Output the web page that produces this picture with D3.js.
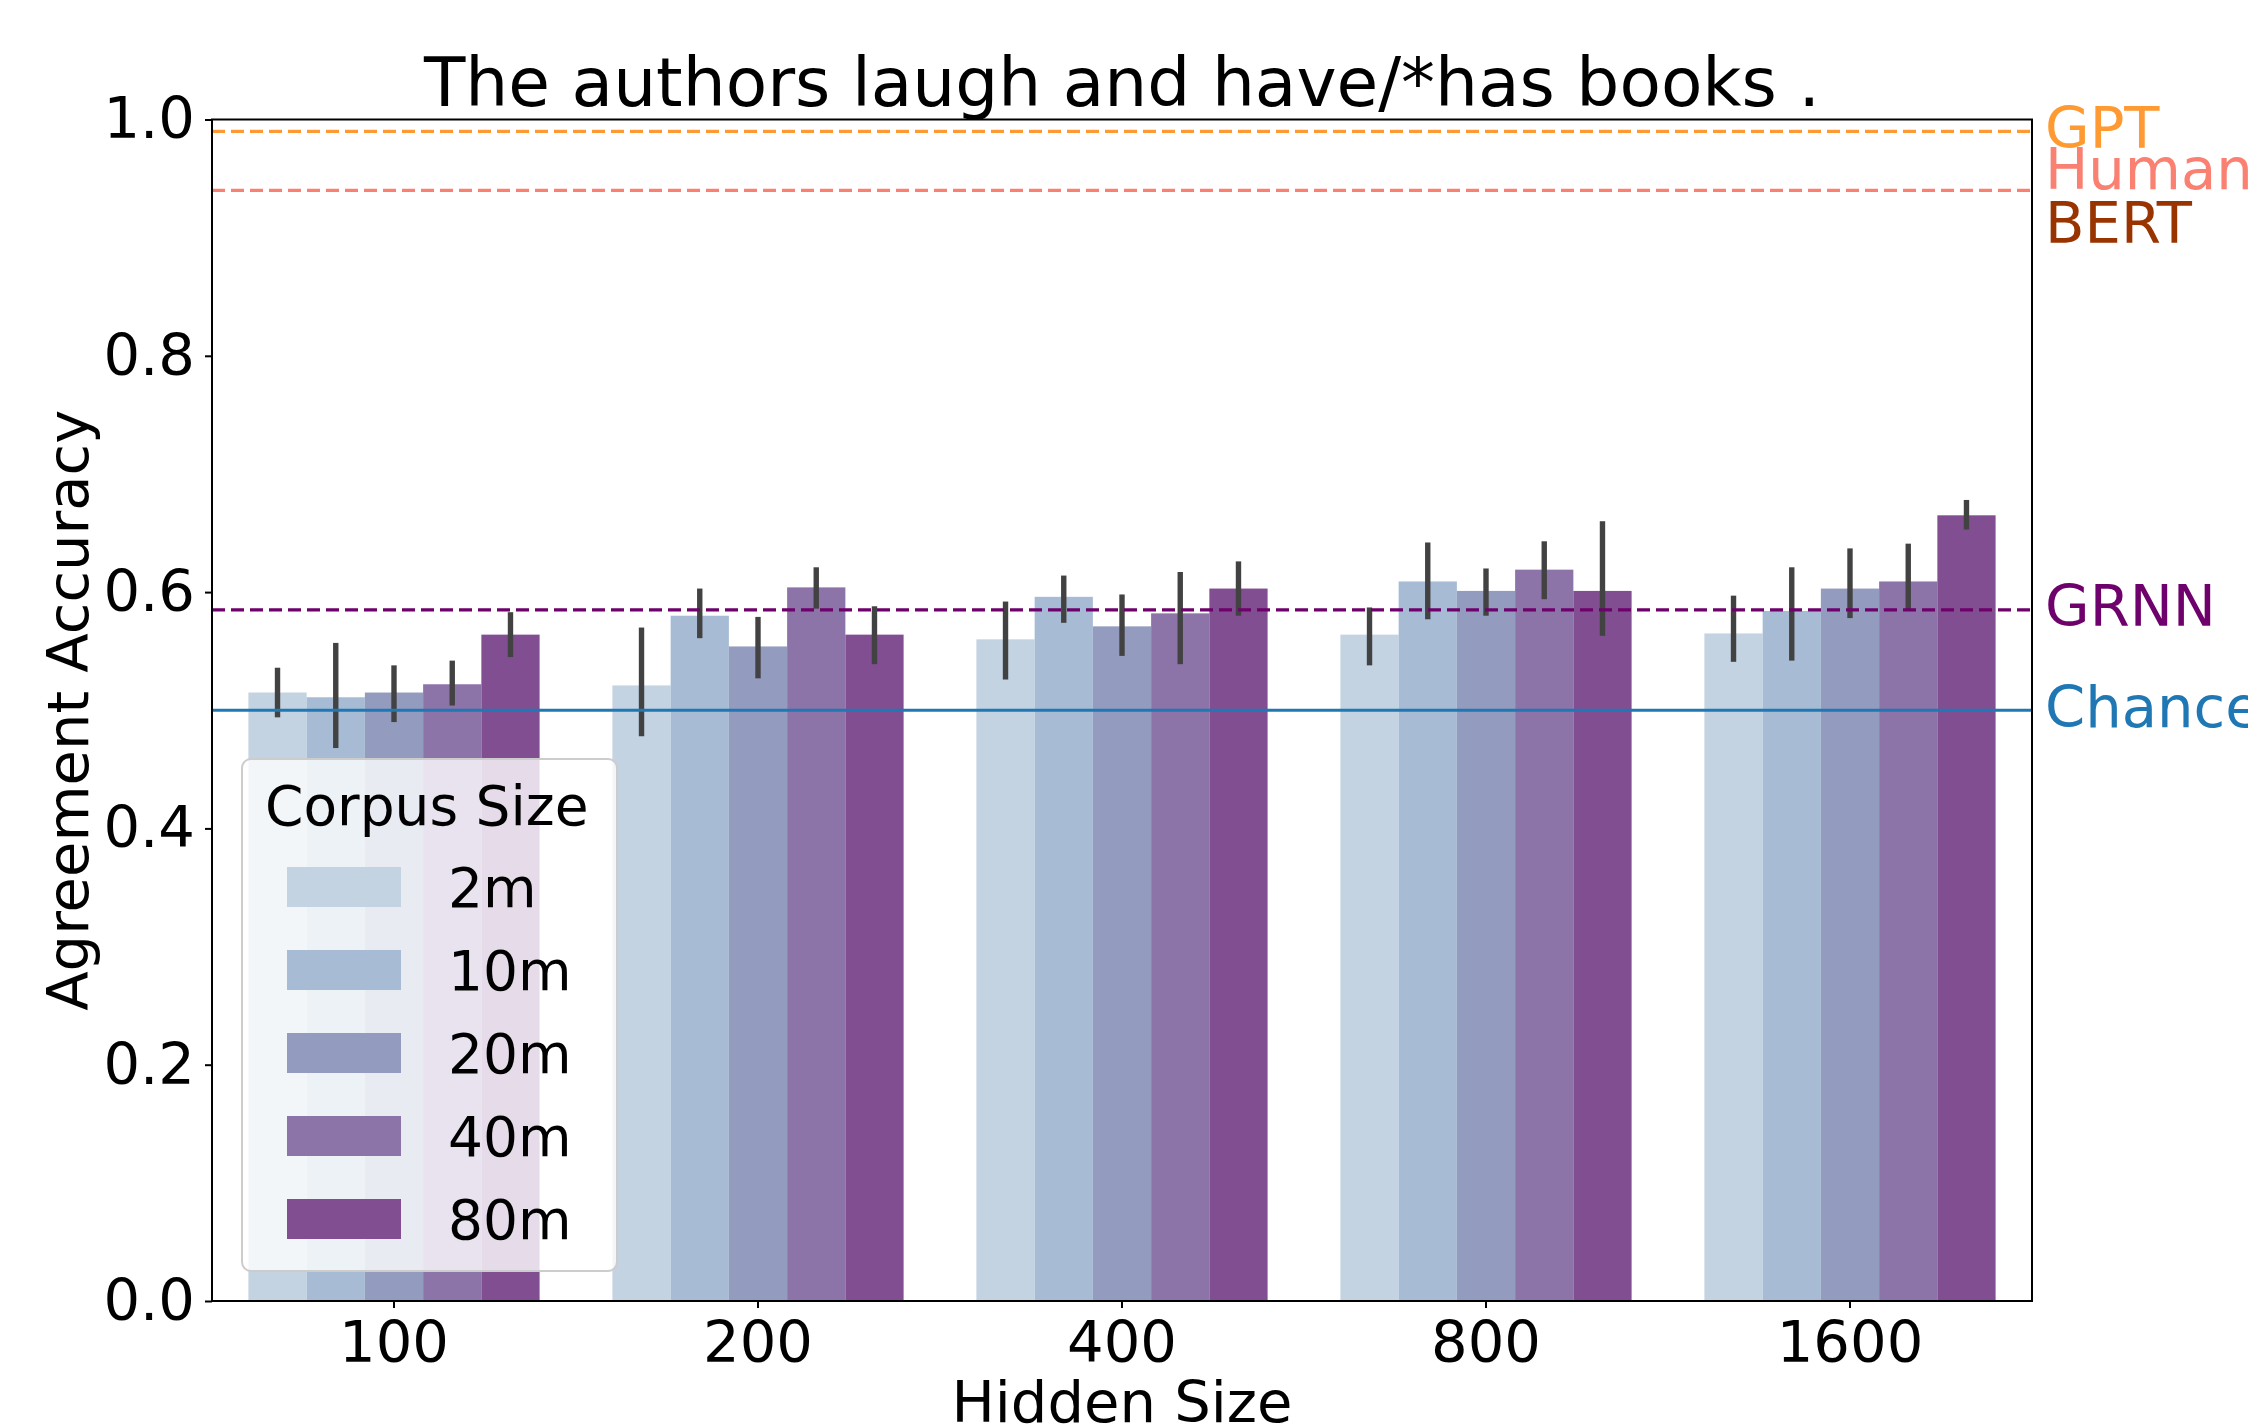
<!DOCTYPE html>
<html lang="en">
<head>
    <meta charset="UTF-8">
    <title>Agreement Accuracy</title>
    <script src="https://d3js.org/d3.v7.min.js"></script>
    <style>
        * {
            margin: 0;
            padding: 0;
            box-sizing: border-box;
        }
        body {
            font-family: "DejaVu Sans", sans-serif;
            background: white;
        }
    </style>
</head>
<body>
    <div id="chart"></div>
    <script>
        // data
        const hiddenSizes = ["100", "200", "400", "800", "1600"];
        const corpusSizes = ["2m", "10m", "20m", "40m", "80m"];

        // mean accuracy per corpus size, one value per hidden size
        const acc2m  = [0.515, 0.521, 0.560, 0.564, 0.565];
        const acc10m = [0.511, 0.580, 0.596, 0.609, 0.584];
        const acc20m = [0.515, 0.554, 0.571, 0.601, 0.603];
        const acc40m = [0.522, 0.604, 0.582, 0.619, 0.609];
        const acc80m = [0.564, 0.564, 0.603, 0.601, 0.665];

        // error bar low / high
        const lo2m  = [0.494, 0.478, 0.526, 0.538, 0.541];
        const hi2m  = [0.536, 0.570, 0.592, 0.587, 0.597];
        const lo10m = [0.468, 0.561, 0.574, 0.577, 0.542];
        const hi10m = [0.557, 0.603, 0.614, 0.642, 0.621];
        const lo20m = [0.490, 0.527, 0.546, 0.580, 0.578];
        const hi20m = [0.538, 0.579, 0.598, 0.620, 0.637];
        const lo40m = [0.504, 0.586, 0.539, 0.594, 0.585];
        const hi40m = [0.542, 0.621, 0.617, 0.643, 0.641];
        const lo80m = [0.545, 0.539, 0.580, 0.563, 0.653];
        const hi80m = [0.583, 0.588, 0.626, 0.660, 0.678];

        const yTicks = [0, 0.2, 0.4, 0.6, 0.8, 1.0];

        // reference lines: value (null = no line drawn) and label position
        const refNames  = ["GPT", "Human", "BERT", "GRNN", "Chance"];
        const refValues = [0.99, 0.94, null, 0.585, 0.5];
        const refLabelY = [0.9934, 0.9584, 0.9132, 0.5885, 0.5037];

        const barColors = ["#c3d3e2", "#a7bcd4", "#939cbf", "#8c73a8", "#824e92"];
        const refColors = ["#ff9a33", "#fa8072", "#993300", "#6e016b", "#1f77b4"];
        const refDashed = [true, true, false, true, false];

        const means = [acc2m, acc10m, acc20m, acc40m, acc80m];
        const lows = [lo2m, lo10m, lo20m, lo40m, lo80m];
        const highs = [hi2m, hi10m, hi20m, hi40m, hi80m];

        const data = [];
        hiddenSizes.forEach((h, i) => {
            corpusSizes.forEach((c, j) => {
                data.push({ hidden: h, corpus: c, value: means[j][i], lo: lows[j][i], hi: highs[j][i], k: j });
            });
        });

        const W = 2248, H = 1428;
        const plot = { left: 212, right: 2032, top: 119.5, bottom: 1301 };

        const svg = d3.select("#chart")
            .append("svg")
            .attr("width", W)
            .attr("height", H);

        const x = d3.scaleBand()
            .domain(hiddenSizes)
            .range([plot.left, plot.right])
            .paddingInner(0.2)
            .paddingOuter(0.1);

        const xInner = d3.scaleBand()
            .domain(corpusSizes)
            .range([0, x.bandwidth()]);

        const y = d3.scaleLinear()
            .domain([0, 1])
            .range([plot.bottom, plot.top]);

        // bars
        svg.append("g")
            .selectAll("rect")
            .data(data)
            .join("rect")
            .attr("x", d => x(d.hidden) + xInner(d.corpus))
            .attr("y", d => y(d.value))
            .attr("width", xInner.bandwidth())
            .attr("height", d => y(0) - y(d.value))
            .attr("fill", d => barColors[d.k]);

        // error bars
        svg.append("g")
            .selectAll("line")
            .data(data)
            .join("line")
            .attr("x1", d => x(d.hidden) + xInner(d.corpus) + xInner.bandwidth() / 2)
            .attr("x2", d => x(d.hidden) + xInner(d.corpus) + xInner.bandwidth() / 2)
            .attr("y1", d => y(d.lo))
            .attr("y2", d => y(d.hi))
            .attr("stroke", "#424242")
            .attr("stroke-width", 5.4);

        // reference lines
        const refs = refNames.map((n, i) => ({ name: n, value: refValues[i], labelY: refLabelY[i], color: refColors[i], dashed: refDashed[i] }));

        svg.append("g")
            .selectAll("line")
            .data(refs.filter(d => d.value !== null))
            .join("line")
            .attr("x1", plot.left)
            .attr("x2", plot.right)
            .attr("y1", d => y(d.value))
            .attr("y2", d => y(d.value))
            .attr("stroke", d => d.color)
            .attr("stroke-width", d => d.dashed ? 3.2 : 3)
            .attr("stroke-dasharray", d => d.dashed ? "13,6" : null);

        svg.append("g")
            .selectAll("text")
            .data(refs)
            .join("text")
            .attr("x", plot.right + 13)
            .attr("y", d => y(d.labelY))
            .attr("dy", "0.36em")
            .attr("fill", d => d.color)
            .style("font-size", "57.6px")
            .text(d => d.name);

        // axes
        const yAxis = svg.append("g")
            .attr("transform", `translate(${plot.left},0)`)
            .call(d3.axisLeft(y).tickValues(yTicks).tickFormat(d3.format(".1f")).tickSize(7).tickPadding(10));

        const xAxis = svg.append("g")
            .attr("transform", `translate(0,${plot.bottom})`)
            .call(d3.axisBottom(x).tickSize(7).tickPadding(10));

        [yAxis, xAxis].forEach(g => {
            g.select(".domain").remove();
            g.selectAll("line").attr("stroke", "black").attr("stroke-width", 2);
            g.selectAll("text")
                .attr("fill", "black")
                .style("font-size", "57.6px")
                .style("font-family", "DejaVu Sans");
        });
        xAxis.selectAll("text").attr("dy", "0.76em");

        // frame
        svg.append("rect")
            .attr("x", plot.left)
            .attr("y", plot.top)
            .attr("width", plot.right - plot.left)
            .attr("height", plot.bottom - plot.top)
            .attr("fill", "none")
            .attr("stroke", "black")
            .attr("stroke-width", 2);

        // title and axis labels
        svg.append("text")
            .attr("x", (plot.left + plot.right) / 2)
            .attr("y", 106)
            .attr("text-anchor", "middle")
            .style("font-size", "67.8px")
            .text("The authors laugh and have/*has books .");

        svg.append("text")
            .attr("x", (plot.left + plot.right) / 2)
            .attr("y", 1422)
            .attr("text-anchor", "middle")
            .style("font-size", "57.6px")
            .text("Hidden Size");

        svg.append("text")
            .attr("transform", `translate(88,${(plot.top + plot.bottom) / 2}) rotate(-90)`)
            .attr("text-anchor", "middle")
            .style("font-size", "57.6px")
            .text("Agreement Accuracy");

        // legend
        const legend = svg.append("g");
        legend.append("rect")
            .attr("x", 242)
            .attr("y", 759)
            .attr("width", 375)
            .attr("height", 512)
            .attr("rx", 9)
            .attr("fill", "white")
            .attr("fill-opacity", 0.8)
            .attr("stroke", "#cccccc")
            .attr("stroke-width", 2);

        legend.append("text")
            .attr("x", 265)
            .attr("y", 825)
            .style("font-size", "55px")
            .text("Corpus Size");

        const items = legend.selectAll(".item")
            .data(corpusSizes)
            .join("g")
            .attr("class", "item")
            .attr("transform", (d, i) => `translate(0,${887 + i * 83})`);

        items.append("rect")
            .attr("x", 287)
            .attr("y", -20)
            .attr("width", 114)
            .attr("height", 40)
            .attr("fill", (d, i) => barColors[i]);

        items.append("text")
            .attr("x", 448)
            .attr("y", 19.5)
            .style("font-size", "55px")
            .text(d => d);
    </script>
</body>
</html>
